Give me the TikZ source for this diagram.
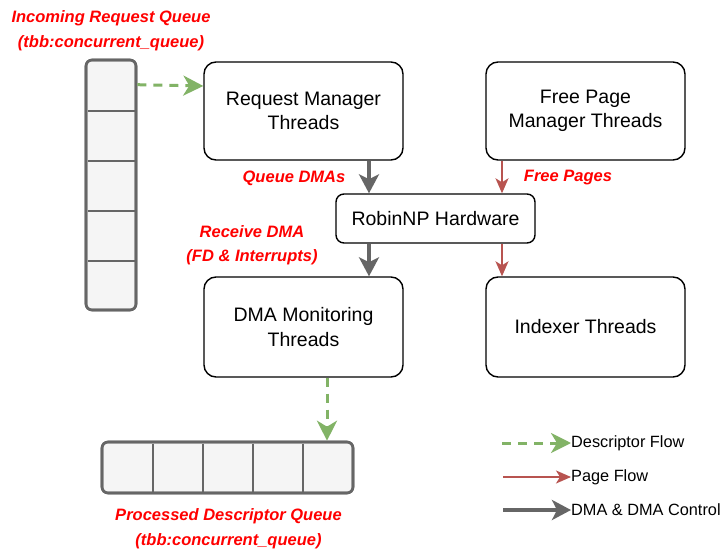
\documentclass[tikz,border=0pt]{standalone}
\usepackage{fontspec}
\setmainfont{Liberation Sans}
\usetikzlibrary{arrows.meta}
\definecolor{gflow}{HTML}{82B366}
\definecolor{rflow}{HTML}{B85450}
\definecolor{dgray}{HTML}{666666}
\definecolor{qfill}{HTML}{F5F5F5}
\definecolor{lred}{HTML}{FF0000}
\tikzset{
  box/.style={draw=black, line width=1.4pt, rounded corners=12pt, fill=white,
    minimum width=199pt, minimum height=98pt, align=center,
    font=\fontsize{19.5}{24.5}\selectfont},
  hwbox/.style={box, rounded corners=8pt, minimum height=49pt},
  queue/.style={draw=dgray, line width=2.6pt, rounded corners=6pt, fill=qfill, inner sep=0pt},
  cellline/.style={draw=dgray, line width=1.4pt},
  lbl/.style={text=lred, font=\fontsize{16.5}{20}\selectfont\bfseries\itshape, inner sep=0pt},
  legtext/.style={font=\fontsize{16.3}{19}\selectfont, inner sep=0pt, anchor=west},
  desc/.style={draw=gflow, line width=3pt, dash pattern=on 9pt off 7pt,
    -{Stealth[length=20pt, width=20pt, inset=6pt, sep=0pt]}, shorten >=0pt},
  page/.style={draw=rflow, line width=1.5pt, -{Stealth[length=15pt, width=13pt, inset=4pt]}},
  dma/.style={draw=dgray, line width=4pt, -{Stealth[length=19pt, width=20pt, inset=5pt]}},
}
\begin{document}
\begin{tikzpicture}[x=1pt, y=-1pt]
\useasboundingbox[fill=white] (0,0) rectangle (723,551);

% incoming queue
\node[queue, minimum width=50pt, minimum height=250pt] (inq) at (111,185) {};
\foreach \yy in {111,161,211,261} \draw[cellline] (87.5,\yy) -- (134.5,\yy);
\draw[queue, fill=none] (86,60) rectangle (136,310);

% processed queue
\node[queue, minimum width=251pt, minimum height=51pt] (outq) at (227.5,467.5) {};
\foreach \xx in {153,203,253,303} \draw[cellline] (\xx,443.5) -- (\xx,491.5);
\draw[queue, fill=none] (102,442) rectangle (353,493);

% boxes
\node[box] (rm) at (303.5,111) {Request Manager\\Threads};
\node[box] (fp) at (585.5,111) {Free Page\\Manager Threads};
\node[hwbox] (hw) at (435.5,218.5) {RobinNP Hardware};
\node[box, minimum height=100pt] (dm) at (303.5,327) {DMA Monitoring\\Threads};
\node[box, minimum height=100pt] (ix) at (585.5,327) {Indexer Threads};

% labels
\node[lbl] (l1) at (111,18) {Incoming Request Queue};
\node[lbl] (l2) at (111,43) {(tbb:concurrent\_queue)};
\node[lbl] (l3) at (294,178) {Queue DMAs};
\node[lbl] (l4) at (568,178) {Free Pages};
\node[lbl] (l5) at (252,232) {Receive DMA};
\node[lbl] (l6) at (252,257) {(FD \& Interrupts)};
\node[lbl] (l7) at (228.5,516) {Processed Descriptor Queue};
\node[lbl] (l8) at (228.5,541) {(tbb:concurrent\_queue)};

% connectors
\coordinate (gx) at (369,0);
\coordinate (rx) at (502,0);
\coordinate (dx) at (327,0);
\draw[desc] ([yshift=-26pt]inq.north east) -- ([yshift=25pt]rm.west);
\draw[dma] (rm.south -| gx) -- (hw.north -| gx);
\draw[dma] (hw.south -| gx) -- (dm.north -| gx);
\draw[page] (fp.south -| rx) -- (hw.north -| rx);
\draw[page] (hw.south -| rx) -- (ix.north -| rx);
\draw[desc] (dm.south -| dx) -- (outq.north -| dx);

% legend
\node[legtext] (lg1) at (571,443) {Descriptor Flow};
\node[legtext] (lg2) at (571,477) {Page Flow};
\node[legtext] (lg3) at (571,510) {DMA \& DMA Control};
\coordinate (lg1s) at (502,443);
\coordinate (lg2s) at (503,477);
\coordinate (lg3s) at (503,510);
\draw[desc] (lg1s) -- (lg1.west);
\draw[page] (lg2s) -- (lg2.west);
\draw[dma] (lg3s) -- (lg3.west);
\end{tikzpicture}
\end{document}
